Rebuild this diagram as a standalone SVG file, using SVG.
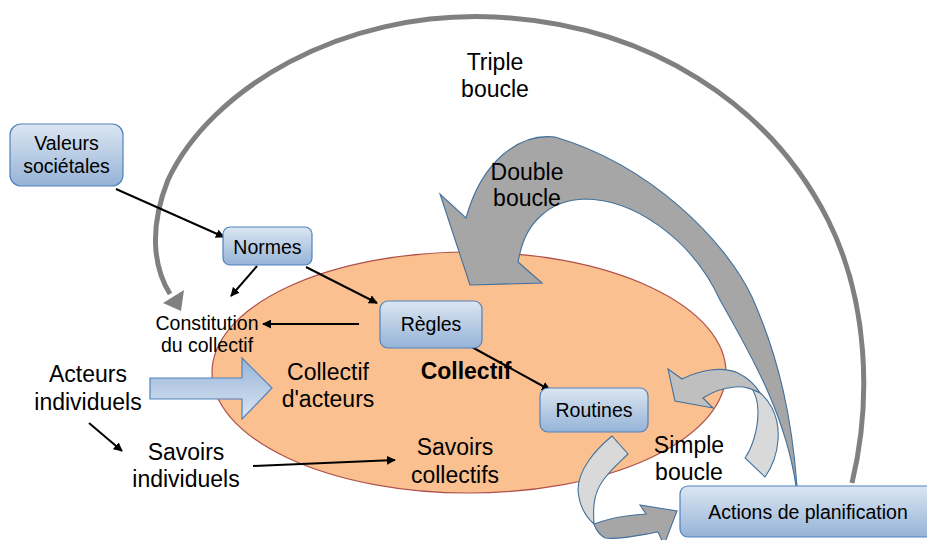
<svg xmlns="http://www.w3.org/2000/svg" width="927" height="540" viewBox="0 0 927 540">
<defs>
<linearGradient id="boxg" x1="0" y1="0" x2="0" y2="1">
<stop offset="0" stop-color="#DCE6F2"/>
<stop offset="1" stop-color="#95B3D7"/>
</linearGradient>
<linearGradient id="arrg" x1="0" y1="0" x2="0" y2="1">
<stop offset="0" stop-color="#95B3D7"/>
<stop offset="1" stop-color="#DCE6F2"/>
</linearGradient>
<marker id="ah" viewBox="0 0 10 10" refX="9" refY="5" markerWidth="4.5" markerHeight="4.5" orient="auto" markerUnits="strokeWidth">
<path d="M0,0 L10,5 L0,10 Z" fill="#000"/>
</marker>
<style>
.box{fill:url(#boxg);stroke:#4F81BD;stroke-width:1.2}
.t{font-family:"Liberation Sans",Arial,sans-serif;fill:#000;text-anchor:middle}
.s{font-size:19.5px}
.b{font-size:23px}
.conn{stroke:#000;stroke-width:2;fill:none;marker-end:url(#ah)}
.band{stroke:#41719C;stroke-width:1.1;stroke-linejoin:miter}
</style>
</defs>

<g id="collectif">
<ellipse cx="469" cy="372.5" rx="257" ry="120.5" fill="#FAC090" stroke="#B0504A" stroke-width="1.2"/>
</g>

<g id="loops">
<path id="triple" d="M852,483 C872,400 868,300 828,220 C770,105 650,25 495,17 C340,10 210,90 168,180 C150,225 152,265 170,294" fill="none" stroke="#808080" stroke-width="5"/>
<polygon points="163,303 184,290 181,311" fill="#808080"/>
<path id="double" class="band" fill="#A6A6A6" d="M797,486 C792,420 780,360 752,297 C725,240 650,165 555,137 C520,133 482,160 466,218 L440,194 L470,285 L542,283 L518,262 L520,253 C527,222 550,200 585,199 C630,199 690,235 720,300 C745,345 785,410 796,486 Z"/>
<path id="simple1-light" class="band" fill="#D9D9D9" d="M750,386 C768,395 780,415 778,440 C777,455 772,467 765,477 L745,458 C752,448 758,430 758,412 C758,400 755,392 750,386 Z"/>
<path id="simple1-dark" class="band" fill="#BFBFBF" d="M668,369 L682,379 C700,370 722,366 738,373 C748,378 756,386 760,393 C752,389 745,386 735,387 C722,388 712,392 703,398 L713,408 L675,401 Z"/>
<path id="simple2-light" class="band" fill="#D9D9D9" d="M612,436 C595,450 578,470 578,490 C579,505 585,516 594,524 C593,510 593,495 602,482 C610,470 620,462 628,454 Z"/>
<path id="simple2-dark" class="band" fill="#A6A6A6" d="M594,524 C605,520 625,515 646,514 L640,505 L677,511 L664,545 L658,532 C640,535 620,540 605,538 C600,535 596,530 594,524 Z"/>
</g>

<g id="connectors">
<line class="conn" x1="116" y1="189" x2="224" y2="237"/>
<line class="conn" x1="257" y1="266" x2="231" y2="296"/>
<line class="conn" x1="306" y1="267" x2="377" y2="303"/>
<line class="conn" x1="359" y1="324" x2="263" y2="324"/>
<line class="conn" x1="470" y1="346" x2="550" y2="390"/>
<line class="conn" x1="89" y1="423" x2="122" y2="451"/>
<line class="conn" x1="253" y1="466" x2="395" y2="460"/>
<polygon id="acteurs-arrow" points="150,378 242,378 242,358 272,388 242,419 242,399 150,399" fill="url(#arrg)" stroke="#4F81BD" stroke-width="1.2"/>
</g>

<g id="valeurs">
<rect class="box" x="10" y="124" width="113" height="62" rx="11"/>
<text class="t s" x="66.5" y="150">Valeurs</text>
<text class="t s" x="66.5" y="173">sociétales</text>
</g>
<g id="normes">
<rect class="box" x="223" y="227" width="89" height="38" rx="7"/>
<text class="t s" x="267.5" y="254">Normes</text>
</g>
<g id="regles">
<rect class="box" x="380" y="301" width="102" height="47" rx="8"/>
<text class="t s" x="431" y="331">Règles</text>
</g>
<g id="routines">
<rect class="box" x="540" y="388" width="108" height="44" rx="8"/>
<text class="t s" x="594" y="417">Routines</text>
</g>
<g id="actions">
<rect class="box" x="680" y="486" width="262" height="51" rx="8"/>
<text class="t s" x="808" y="519">Actions de planification</text>
</g>

<g id="labels">
<text class="t s" x="207" y="330">Constitution</text>
<text class="t s" x="207" y="352">du collectif</text>
<text class="t b" x="328" y="380">Collectif</text>
<text class="t b" x="328" y="407">d'acteurs</text>
<text class="t b" x="466" y="379" font-weight="bold">Collectif</text>
<text class="t b" x="88" y="382">Acteurs</text>
<text class="t b" x="88" y="410">individuels</text>
<text class="t b" x="186" y="460">Savoirs</text>
<text class="t b" x="186" y="487">individuels</text>
<text class="t b" x="455" y="455">Savoirs</text>
<text class="t b" x="455" y="483">collectifs</text>
<text class="t b" x="689" y="453">Simple</text>
<text class="t b" x="689" y="480">boucle</text>
<text class="t b" x="495" y="70">Triple</text>
<text class="t b" x="495" y="97">boucle</text>
<text class="t b" x="527" y="180">Double</text>
<text class="t b" x="527" y="206">boucle</text>
</g>
</svg>
